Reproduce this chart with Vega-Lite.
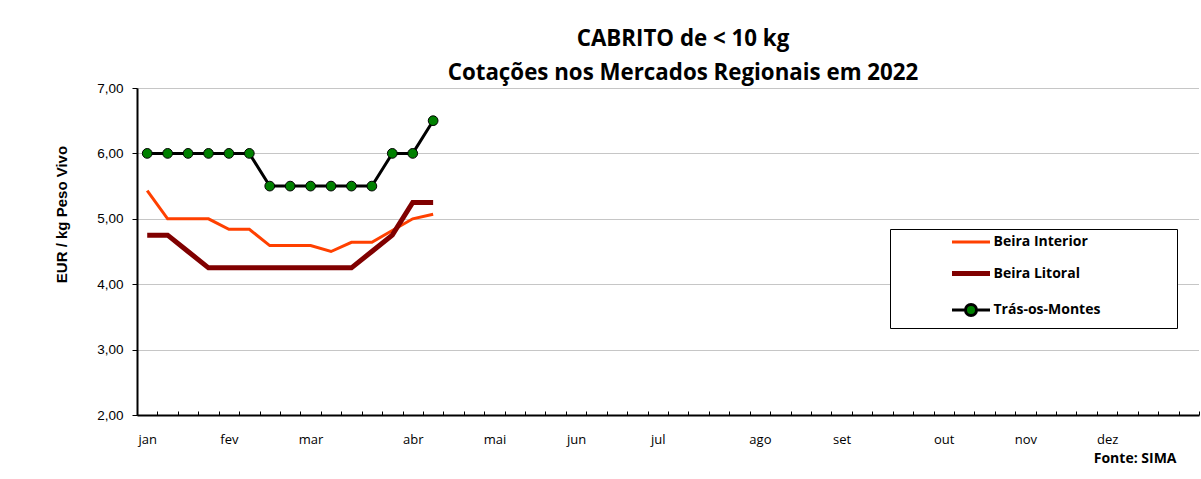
{
  "$schema": "https://vega.github.io/schema/vega-lite/v6.json",
  "width": 1062,
  "height": 327,
  "autosize": "none",
  "padding": {"left": 137, "top": 88, "right": 2, "bottom": 64},
  "background": "white",
  "config": {"view": {"stroke": null}},
  "title": {
    "text": ["CABRITO de < 10 kg", "Cotações nos Mercados Regionais em 2022"],
    "font": "Open Sans",
    "fontSize": 22.3,
    "fontWeight": "bold",
    "color": "black",
    "anchor": "middle",
    "dx": 15,
    "lineHeight": 34,
    "offset": -3
  },
  "data": {
    "values": [
      {"semana": 1, "mercado": "Beira Interior", "valor": 5.43},
      {"semana": 2, "mercado": "Beira Interior", "valor": 5.0},
      {"semana": 3, "mercado": "Beira Interior", "valor": 5.0},
      {"semana": 4, "mercado": "Beira Interior", "valor": 5.0},
      {"semana": 5, "mercado": "Beira Interior", "valor": 4.84},
      {"semana": 6, "mercado": "Beira Interior", "valor": 4.84},
      {"semana": 7, "mercado": "Beira Interior", "valor": 4.59},
      {"semana": 8, "mercado": "Beira Interior", "valor": 4.59},
      {"semana": 9, "mercado": "Beira Interior", "valor": 4.59},
      {"semana": 10, "mercado": "Beira Interior", "valor": 4.5},
      {"semana": 11, "mercado": "Beira Interior", "valor": 4.64},
      {"semana": 12, "mercado": "Beira Interior", "valor": 4.64},
      {"semana": 13, "mercado": "Beira Interior", "valor": 4.82},
      {"semana": 14, "mercado": "Beira Interior", "valor": 5.0},
      {"semana": 15, "mercado": "Beira Interior", "valor": 5.07},
      {"semana": 1, "mercado": "Beira Litoral", "valor": 4.75},
      {"semana": 2, "mercado": "Beira Litoral", "valor": 4.75},
      {"semana": 3, "mercado": "Beira Litoral", "valor": 4.5},
      {"semana": 4, "mercado": "Beira Litoral", "valor": 4.25},
      {"semana": 5, "mercado": "Beira Litoral", "valor": 4.25},
      {"semana": 6, "mercado": "Beira Litoral", "valor": 4.25},
      {"semana": 7, "mercado": "Beira Litoral", "valor": 4.25},
      {"semana": 8, "mercado": "Beira Litoral", "valor": 4.25},
      {"semana": 9, "mercado": "Beira Litoral", "valor": 4.25},
      {"semana": 10, "mercado": "Beira Litoral", "valor": 4.25},
      {"semana": 11, "mercado": "Beira Litoral", "valor": 4.25},
      {"semana": 12, "mercado": "Beira Litoral", "valor": 4.5},
      {"semana": 13, "mercado": "Beira Litoral", "valor": 4.75},
      {"semana": 14, "mercado": "Beira Litoral", "valor": 5.25},
      {"semana": 15, "mercado": "Beira Litoral", "valor": 5.25},
      {"semana": 1, "mercado": "Trás-os-Montes", "valor": 6.0},
      {"semana": 2, "mercado": "Trás-os-Montes", "valor": 6.0},
      {"semana": 3, "mercado": "Trás-os-Montes", "valor": 6.0},
      {"semana": 4, "mercado": "Trás-os-Montes", "valor": 6.0},
      {"semana": 5, "mercado": "Trás-os-Montes", "valor": 6.0},
      {"semana": 6, "mercado": "Trás-os-Montes", "valor": 6.0},
      {"semana": 7, "mercado": "Trás-os-Montes", "valor": 5.5},
      {"semana": 8, "mercado": "Trás-os-Montes", "valor": 5.5},
      {"semana": 9, "mercado": "Trás-os-Montes", "valor": 5.5},
      {"semana": 10, "mercado": "Trás-os-Montes", "valor": 5.5},
      {"semana": 11, "mercado": "Trás-os-Montes", "valor": 5.5},
      {"semana": 12, "mercado": "Trás-os-Montes", "valor": 5.5},
      {"semana": 13, "mercado": "Trás-os-Montes", "valor": 6.0},
      {"semana": 14, "mercado": "Trás-os-Montes", "valor": 6.0},
      {"semana": 15, "mercado": "Trás-os-Montes", "valor": 6.5}
    ]
  },
  "resolve": {"axis": {"x": "independent"}},
  "layer": [
    {
      "mark": {"type": "line"},
      "encoding": {
        "x": {
          "field": "semana",
          "type": "quantitative",
          "scale": {"domain": [0.5, 52.5], "nice": false, "zero": false},
          "axis": {
            "orient": "bottom",
            "values": [0.5, 1.5, 2.5, 3.5, 4.5, 5.5, 6.5, 7.5, 8.5, 9.5, 10.5, 11.5, 12.5, 13.5, 14.5, 15.5, 16.5, 17.5, 18.5, 19.5, 20.5, 21.5, 22.5, 23.5, 24.5, 25.5, 26.5, 27.5, 28.5, 29.5, 30.5, 31.5, 32.5, 33.5, 34.5, 35.5, 36.5, 37.5, 38.5, 39.5, 40.5, 41.5, 42.5, 43.5, 44.5, 45.5, 46.5, 47.5, 48.5, 49.5, 50.5, 51.5, 52.5],
            "labels": false,
            "tickSize": -4,
            "tickColor": "black",
            "tickWidth": 1,
            "domainColor": "black",
            "domainWidth": 2,
            "grid": false,
            "title": "Fonte: SIMA",
            "titleFont": "Open Sans",
            "titleFontSize": 14,
            "titleFontWeight": "bold",
            "titleColor": "black",
            "titleX": 1039,
            "titleY": 43,
            "titleAlign": "right",
            "titleBaseline": "middle"
          }
        },
        "y": {
          "field": "valor",
          "type": "quantitative",
          "scale": {"domain": [2, 7], "nice": false, "zero": false},
          "axis": {
            "values": [2, 3, 4, 5, 6, 7],
            "labelExpr": "replace(format(datum.value,'.2f'),'.',',')",
            "labelFont": "Liberation Sans",
            "labelFontSize": 13.5,
            "labelColor": "black",
            "labelPadding": 9,
            "tickSize": 5,
            "tickColor": "black",
            "domainColor": "black",
            "domainWidth": 2,
            "grid": true,
            "gridColor": "#8c8c8c",
            "gridDash": [1, 1],
            "gridWidth": 1,
            "title": "EUR / kg Peso Vivo",
            "titleFont": "Liberation Sans",
            "titleFontSize": 15,
            "titleFontWeight": "bold",
            "titleColor": "black",
            "titleX": -76,
            "titleY": 126,
            "titleAngle": -90,
            "titleAlign": "center",
            "titleBaseline": "middle"
          }
        },
        "color": {
          "field": "mercado",
          "type": "nominal",
          "scale": {
            "domain": ["Beira Interior", "Beira Litoral", "Trás-os-Montes"],
            "range": ["#FF4000", "#800000", "#000000"]
          },
          "legend": {
            "orient": "none",
            "legendX": 753,
            "legendY": 141,
            "direction": "vertical",
            "strokeColor": "black",
            "fillColor": "white",
            "padding": 6,
            "symbolSize": 361,
            "rowPadding": 14.5,
            "labelOffset": 15.5,
            "labelFont": "Open Sans",
            "labelFontSize": 14,
            "labelFontWeight": "bold",
            "labelColor": "black",
            "labelLimit": 400,
            "labelExpr": "datum.label + '\u2800\u2800\u2800\u2800\u2800\u2800\u2800'",
            "title": "MMMM",
            "titleOrient": "left",
            "titleOpacity": 0,
            "titleFont": "Lato",
            "titleFontSize": 13,
            "titlePadding": 18,
            "encode": {
              "symbols": {
                "update": {
                  "shape": {"signal": "datum.value==='Trás-os-Montes' ? 'M-2,0L-0.58,0M0.58,0L2,0M-0.58,0A0.58,0.58,0,1,1,0.58,0A0.58,0.58,0,1,1,-0.58,0Z' : 'M-2,0L2,0'"},
                  "fill": {"signal": "datum.value==='Trás-os-Montes' ? '#008000' : 'transparent'"},
                  "fillOpacity": {"value": 1},
                  "strokeWidth": {"signal": "datum.value==='Beira Litoral' ? 5 : 3"}
                }
              }
            }
          }
        },
        "strokeWidth": {
          "condition": {"test": "datum.mercado==='Beira Litoral'", "value": 5},
          "value": 3
        }
      }
    },
    {
      "transform": [{"filter": "datum.mercado==='Trás-os-Montes'"}],
      "mark": {"type": "point", "shape": "circle", "filled": true, "fill": "#008000", "stroke": "#000000", "strokeWidth": 1, "size": 95, "opacity": 1},
      "encoding": {
        "x": {
          "field": "semana",
          "type": "quantitative",
          "axis": {
            "orient": "bottom",
            "values": [1, 5, 9, 14, 18, 22, 26, 31, 35, 40, 44, 48],
            "labelExpr": "datum.value==1?'jan':datum.value==5?'fev':datum.value==9?'mar':datum.value==14?'abr':datum.value==18?'mai':datum.value==22?'jun':datum.value==26?'jul':datum.value==31?'ago':datum.value==35?'set':datum.value==40?'out':datum.value==44?'nov':'dez'",
            "labelOverlap": false,
            "labelFlush": false,
            "labelFont": "Open Sans",
            "labelFontSize": 13,
            "labelColor": "black",
            "labelPadding": 18,
            "ticks": false,
            "domain": false,
            "grid": false,
            "title": null
          }
        },
        "y": {"field": "valor", "type": "quantitative"}
      }
    }
  ]
}
